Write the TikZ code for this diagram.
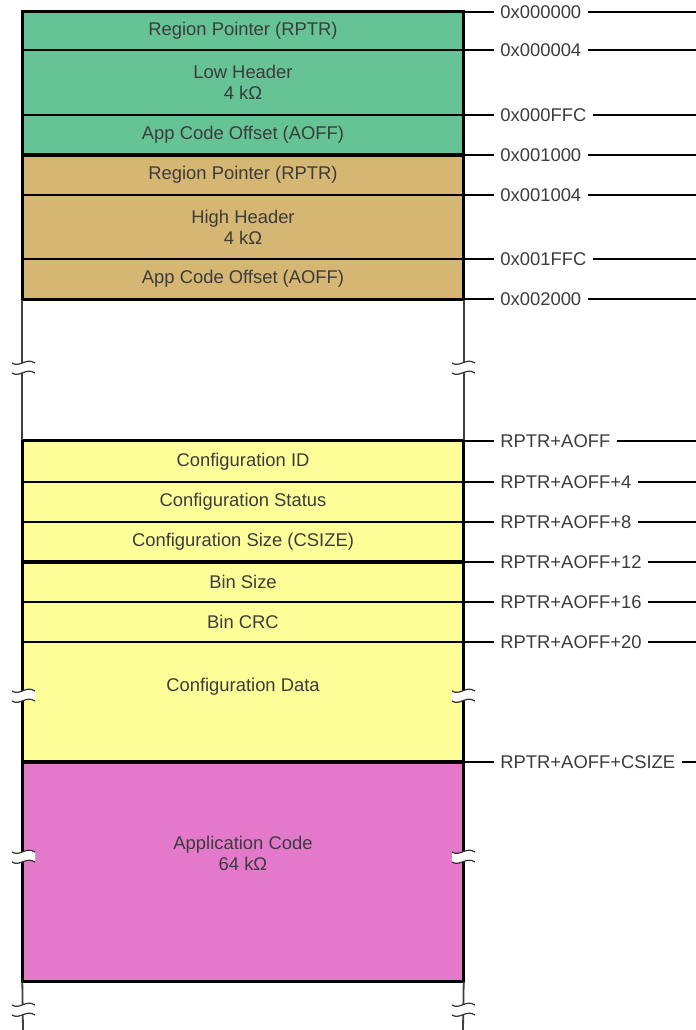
\documentclass[tikz,border=0pt]{standalone}
\usepackage{fontspec}
\setmainfont{Liberation Sans}
\usetikzlibrary{positioning}

\definecolor{lowgreen}{HTML}{66C395}
\definecolor{hightan}{HTML}{D5B673}
\definecolor{cfgyellow}{HTML}{FFFF99}
\definecolor{apppink}{HTML}{E479CB}
\definecolor{txtgray}{HTML}{3C3C3C}

% break mark on a side line, centred at (#1,#2)
\newcommand{\wavebreak}[2]{%
  \begin{scope}[shift={(#1,#2)}]
    \fill[white] (-11,-5) .. controls (-3,0) and (3,-11) .. (12,-5) -- (12,5)
      .. controls (3,-1) and (-3,10) .. (-11,5) -- cycle;
    \draw[breakline] (-11,-5) .. controls (-3,0) and (3,-11) .. (12,-5);
    \draw[breakline] (-11,5) .. controls (-3,10) and (3,-1) .. (12,5);
  \end{scope}}

\begin{document}
\begin{tikzpicture}[
    x=0.5pt, y=-0.5pt,
    cell/.style={draw, line width=0.7pt, minimum width=220pt, inner sep=0pt,
      align=center, text=txtgray, font=\fontsize{9.2}{10.5}\selectfont},
    addr/.style={anchor=west, inner sep=3pt, text=txtgray,
      font=\fontsize{9.2}{10.5}\selectfont},
    tick/.style={line width=0.6pt},
    border/.style={line width=1.5pt},
    sideline/.style={line width=0.9pt, draw=black!75},
    breakline/.style={line width=0.6pt, draw=black!80}
]
    \useasboundingbox (0,0) rectangle (696,1030);

    % Low header (green)
    \node[cell, fill=lowgreen, minimum height=19pt] (rptrLo) at (243,31) {Region Pointer (RPTR)};
    \node[cell, fill=lowgreen, minimum height=32.5pt] (hdrLo) at (243,82.5) {Low Header\\4 kΩ};
    \node[cell, fill=lowgreen, minimum height=20pt] (aoffLo) at (243,135) {App Code Offset (AOFF)};

    % High header (tan)
    \node[cell, fill=hightan, minimum height=20pt] (rptrHi) at (243,175) {Region Pointer (RPTR)};
    \node[cell, fill=hightan, minimum height=32pt] (hdrHi) at (243,227) {High Header\\4 kΩ};
    \node[cell, fill=hightan, minimum height=20pt] (aoffHi) at (243,279) {App Code Offset (AOFF)};

    % Configuration (yellow)
    \node[cell, fill=cfgyellow, minimum height=20.5pt] (cfgId) at (243,461.5) {Configuration ID};
    \node[cell, fill=cfgyellow, minimum height=20pt] (cfgStat) at (243,502) {Configuration Status};
    \node[cell, fill=cfgyellow, minimum height=20pt] (cfgSize) at (243,542) {Configuration Size (CSIZE)};
    \node[cell, fill=cfgyellow, minimum height=20pt] (binSize) at (243,582) {Bin Size};
    \node[cell, fill=cfgyellow, minimum height=20pt] (binCrc) at (243,622) {Bin CRC};
    \node[cell, fill=cfgyellow, minimum height=60pt] (cfgData) at (243,702) {};
    \node[text=txtgray, font=\fontsize{9.2}{10.5}\selectfont] (cfgDataTxt) at (243,687) {Configuration Data};

    % Application code (pink)
    \node[cell, fill=apppink, minimum height=109.5pt] (appCode) at (243,871.5) {};
    \node[align=center, text=txtgray, font=\fontsize{9.2}{10.5}\selectfont] (appCodeTxt) at (243,853) {Application Code\\64 kΩ};

    % section frames
    \draw[border] (rptrLo.north west) rectangle (aoffLo.south east);
    \draw[border] (rptrHi.north west) rectangle (aoffHi.south east);
    \draw[border] (cfgId.north west) rectangle (cfgSize.south east);
    \draw[border] (binSize.north west) rectangle (cfgData.south east);
    \draw[border] (appCode.north west) rectangle (appCode.south east);

    % side lines in the gaps
    \coordinate (endL) at (23,1030);
    \coordinate (endR) at (463,1030);
    \draw[sideline] (aoffHi.south west) -- (cfgId.north west);
    \draw[sideline] (aoffHi.south east) -- (cfgId.north east);
    \draw[sideline] (appCode.south west) -- (endL);
    \draw[sideline] (appCode.south east) -- (endR);

    % break marks
    \wavebreak{23}{368}
    \wavebreak{463}{368}
    \wavebreak{23}{696}
    \wavebreak{463}{696}
    \wavebreak{23}{857}
    \wavebreak{463}{857}
    \wavebreak{23}{1010}
    \wavebreak{463}{1010}

    % addresses
    \coordinate (rim) at (696,0);
    \foreach \name/\yy/\txt in {
        a0/12/0x000000, a1/50/0x000004, a2/115/0x000FFC, a3/155/0x001000,
        a4/195/0x001004, a5/259/0x001FFC, a6/299/0x002000,
        r0/441/RPTR+AOFF, r1/482/RPTR+AOFF+4, r2/522/RPTR+AOFF+8,
        r3/562/RPTR+AOFF+12, r4/602/RPTR+AOFF+16, r5/642/RPTR+AOFF+20,
        r6/762/RPTR+AOFF+CSIZE} {
        \coordinate (\name-in) at (463,\yy);
        \node[addr] (\name) at (494,\yy) {\txt};
        \draw[tick] (\name-in) -- (\name.west);
        \draw[tick] (\name.east) -- (\name.east -| rim);
    }
\end{tikzpicture}
\end{document}
